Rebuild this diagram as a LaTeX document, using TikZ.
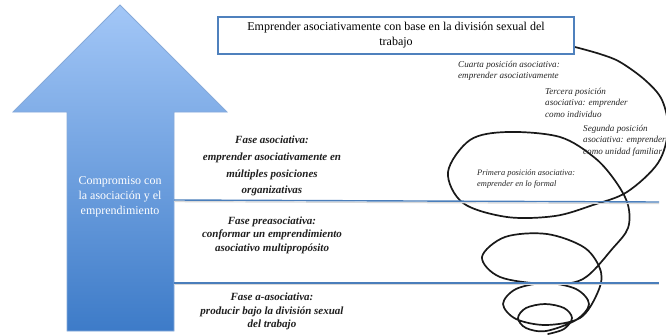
\documentclass[tikz,border=0pt]{standalone}
\usepackage{fontspec}
\setmainfont{Liberation Serif}
\definecolor{arrowtop}{HTML}{A3C7F7}
\definecolor{arrowbot}{HTML}{3D7BC8}
\definecolor{arrowedge}{HTML}{86AADA}
\definecolor{sepblue}{HTML}{4A7EBB}
\definecolor{boxblue}{HTML}{4F81BD}
\begin{document}
\begin{tikzpicture}[x=1pt,y=-1pt,
  phase/.style={font=\fontsize{11}{16.7}\selectfont\bfseries\itshape, align=center, anchor=north, inner sep=0pt, text=black!88},
  phasetight/.style={phase, font=\fontsize{11}{13.4}\selectfont\bfseries\itshape},
  posl/.style={font=\fontsize{9.1}{11.8}\selectfont\itshape, align=left, anchor=north west, inner sep=0pt, text=black!85},
  arrowtxt/.style={font=\fontsize{12}{15}\selectfont, align=center, text=white, inner sep=0pt},
  goalbox/.style={draw=boxblue, line width=1.3pt, fill=white, minimum width=356pt, minimum height=37pt, inner sep=0pt, align=center, font=\fontsize{12}{15}\selectfont},
  sepline/.style={draw=sepblue, line width=1.4pt},
  sepshadow/.style={draw=black!15, line width=1.2pt},
  spiral/.style={draw=black!90, line width=1.7pt, line cap=round, line join=round}]
\clip (0,0) rectangle (666,335);
\fill[white] (0,0) rectangle (666,335);

% big arrow
\path[draw=arrowedge, line width=0.8pt, top color=arrowtop, bottom color=arrowbot]
  (120,5) -- (227,112) -- (174,112) -- (174,331) -- (67,331) -- (67,112) -- (13,112) -- cycle;
\node[arrowtxt] (commit) at (120,197) {Compromiso con\\la asociación y el\\emprendimiento};

% spiral
\draw[spiral] plot[smooth, tension=0.55] coordinates {
  (548,334) (564,329) (572,318) (564,308) (545,304) (526,308) (518,318) (526,328) (546,331)
  (576,320) (589,304) (576,289) (546,283) (516,289) (503,304) (516,319) (546,325)
  (580,318) (597,294) (601,272) (585,248) (547,234) (505,237) (482,257) (500,277) (547,284) (583,279)
  (613,248) (628,228) (628,205) (616,182) (595,158) (560,137) (507,132) (470,140) (448,172) (463,203) (507,217) (555,216)
  (593,205) (627,192) (658,163) (668,130) (662,100) (645,80) (620,62) (600,54) (575,47)};

% separator lines
\coordinate (s1a) at (174,200);
\coordinate (s1b) at (659,202);
\coordinate (s2a) at (174,283);
\coordinate (s2b) at (659,283);
\draw[sepshadow] ([yshift=-1.6pt]s1a) -- ([yshift=-1.6pt]s1b);
\draw[sepshadow] ([yshift=-1.6pt]s2a) -- ([yshift=-1.6pt]s2b);
\draw[sepline] (s1a) -- (s1b);
\draw[sepline] (s2a) -- (s2b);

% goal box
\node[goalbox] (goal) at (396,35.5) {Emprender asociativamente con base en la división sexual del\\trabajo};

% phase texts
\node[phase] (fasoc) at (272,136) {Fase asociativa:\\emprender asociativamente en\\múltiples posiciones\\organizativas};
\node[phasetight] (fpre) at (272,216.5) {Fase preasociativa:\\conformar un emprendimiento\\asociativo multipropósito};
\node[phasetight] (fa) at (272,293) {Fase a-asociativa:\\producir bajo la división sexual\\del trabajo};

% position labels
\node[posl] (cuarta) at (458,60.5) {Cuarta posición asociativa:\\emprender asociativamente};
\node[posl] (tercera) at (545,87.5) {Tercera posición\\asociativa: emprender\\como individuo};
\node[posl] (segunda) at (583,124.5) {Segunda posición\\asociativa: emprender\\como unidad familiar};
\node[posl, font=\fontsize{8.4}{10.5}\selectfont\itshape] (primera) at (477,169.5) {Primera posición asociativa:\\emprender en lo formal};
\end{tikzpicture}
\end{document}
